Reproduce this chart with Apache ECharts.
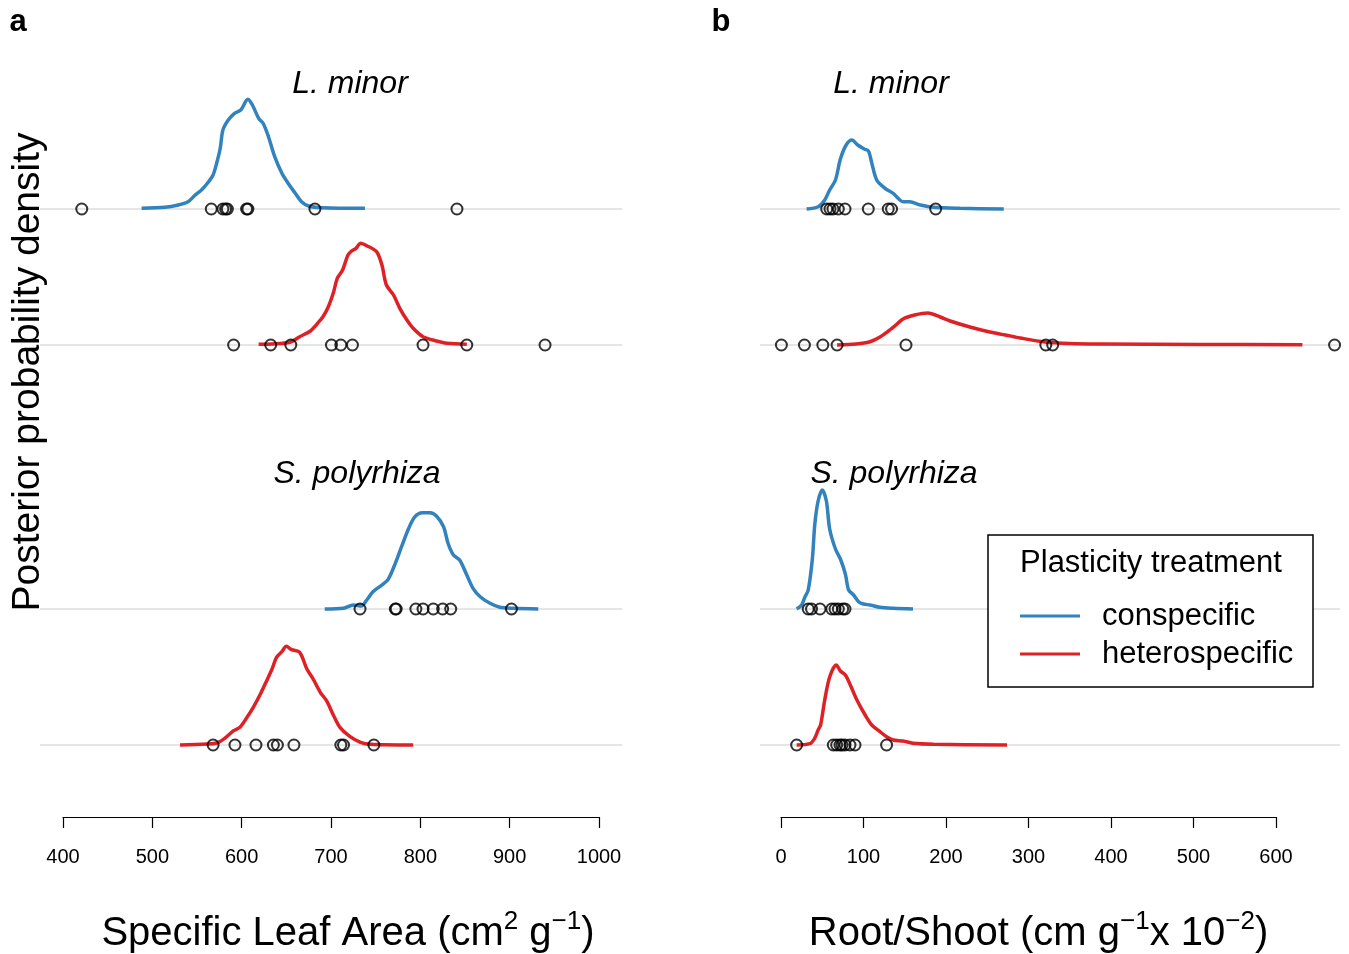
<!DOCTYPE html>
<html>
<head>
<meta charset="utf-8">
<script src="https://cdn.jsdelivr.net/npm/echarts@6/dist/echarts.min.js"></script>
<style>
html, body { margin: 0; padding: 0; background: #fff; }
#main { width: 1349px; height: 954px; }
</style>
</head>
<body>
<div id="main"></div>
<script>
// plotted x extent of each panel (ridge baselines run across all of it)
var sla_range = [374.254, 1025.746];
var rs_range = [-25.455, 677.576];
// tick range of the drawn axes
var sla_ticks = [400, 1000];
var rs_ticks = [0, 600];
// vertical offset of each ridge: L. minor con, L. minor het, S. polyrhiza con, S. polyrhiza het
var ridge_base = [608, 472, 208, 72];

// posterior densities [x, height] (scaled)
var sla_minor_con = [[488,0.7],[514,1.7],[529,4],[540,7.3],[548,14],[555,19],[563,27.3],[568,34],[572,45.7],[576,60.7],[579,79],[585,89],[592,95.7],[599,99],[607,109.7],[612,104],[619,90.7],[624,85.7],[630,72.3],[637,52.3],[645,35.7],[652,25.7],[660,15.7],[667,7.3],[675,3],[690,1.3],[738,0.7]];
var sla_minor_het = [[619,0.7],[634,1],[654,2.7],[665,8.3],[677,14],[684,20.7],[691,28.3],[697,38.3],[703,53.3],[707,66.7],[713,75],[719,90],[723,94],[728,96.7],[733,101.7],[740,99.3],[751,93.3],[757,80],[762,60],[770,50],[777,36.7],[785,25],[792,16.7],[803,8.3],[818,4],[830,1.7],[852,0.7]];
var sla_poly_con = [[693,0],[714,0.7],[725,4],[734,3],[740,9],[747,17.3],[757,24],[764,29.7],[772,45.7],[779,62.3],[787,80.7],[794,92.3],[802,96.3],[811,96.3],[818,93],[826,82.3],[831,65.7],[837,54],[844,49],[852,34],[859,20.7],[867,12.3],[878,5.7],[889,1.7],[904,0.7],[932,0]];
var sla_poly_het = [[531,0],[561,1],[572,2],[581,6.7],[591,14.3],[598,17.7],[606,27.7],[613,37.7],[621,51],[628,64.3],[634,76],[639,87.7],[645,93.3],[650,98.7],[656,95.3],[665,92.7],[673,76],[680,66],[688,52.7],[695,44.3],[703,29.3],[710,17.7],[721,8.7],[733,2.7],[744,0.7],[792,0]];

var rs_minor_con = [[31,0],[45,2.3],[53,9],[59,19],[66,29],[72,50],[79,64],[86,69],[93,64],[101,60],[106,58],[110,46],[116,29],[126,20.7],[136,15.7],[148,7.3],[156,7.3],[169,4],[185,1.7],[217,0.7],[270,0]];
var rs_minor_het = [[68,0],[91,1],[107,3],[120,8],[135,17],[148,26],[162,30],[178,32],[193,28],[205,24],[229,18],[253,13],[272,10],[290,7],[320,3],[350,1.5],[387,1],[508,0.5],[632,0.3]];
var rs_poly_con = [[19,0],[25,4],[29,12],[33,19],[38,50],[41,85],[45,108],[50,119],[55,108],[59,80],[66,60],[72,50],[78,35],[82,19],[88,14],[94,7.3],[100,5],[108,4],[120,1.7],[136,0.7],[160,0]];
var rs_poly_het = [[19,0],[35,1.3],[41,7],[45,15],[48,20],[53,45],[59,68],[67,80],[72,74],[78,70],[84,60],[92,45],[102,30],[110,20],[120,13.3],[128,8.3],[136,5],[148,4],[160,1.7],[185,0.7],[274,0]];

// observed values (open circles)
var sla_minor_con_obs = [421, 566, 579, 582, 584, 605.5, 607, 682, 841];
var sla_minor_het_obs = [591, 632.5, 655, 700.5, 711, 724, 803, 852, 939.6];
var sla_poly_con_obs = [732.5, 772, 773, 795, 803, 814.5, 825, 834, 902];
var sla_poly_het_obs = [568, 592.5, 616, 635.5, 640, 658.5, 711, 714, 748];
var rs_minor_con_obs = [55.4, 59.4, 63, 69.5, 77.6, 105.8, 130, 134, 187.5];
var rs_minor_het_obs = [0.5, 28.4, 50.7, 68, 151.5, 321, 329.3, 671];
var rs_poly_con_obs = [33, 37, 47.3, 61.5, 65.5, 69.5, 74.8, 77.6];
var rs_poly_het_obs = [19, 63.4, 67.5, 71.5, 74, 77.6, 83.6, 89.7, 128];

var BLUE = '#3182bd', RED = '#de2126';
var FONT = '"Liberation Sans", Arial, Helvetica, sans-serif';
var treat = ['conspecific', 'heterospecific', 'conspecific', 'heterospecific'];

var panels = [
  { range: sla_range, dens: [sla_minor_con, sla_minor_het, sla_poly_con, sla_poly_het],
    obs: [sla_minor_con_obs, sla_minor_het_obs, sla_poly_con_obs, sla_poly_het_obs] },
  { range: rs_range, dens: [rs_minor_con, rs_minor_het, rs_poly_con, rs_poly_het],
    obs: [rs_minor_con_obs, rs_minor_het_obs, rs_poly_con_obs, rs_poly_het_obs] }
];

var series = [];
panels.forEach(function (p, g) {
  for (var i = 0; i < 4; i++) {
    var b = ridge_base[i];
    series.push({
      type: 'line', xAxisIndex: g, yAxisIndex: g, silent: true,
      data: [[p.range[0], b], [p.range[1], b]], symbol: 'none',
      lineStyle: { color: '#cccccc', width: 1 }, z: 1
    });
    series.push({
      name: treat[i], type: 'line', xAxisIndex: g, yAxisIndex: g,
      data: p.dens[i].map(function (d) { return [d[0], b + d[1]]; }),
      symbol: 'none', smooth: 0.3,
      lineStyle: { color: i % 2 ? RED : BLUE, width: 3.5 },
      itemStyle: { color: i % 2 ? RED : BLUE }, z: 2
    });
    series.push({
      type: 'scatter', xAxisIndex: g, yAxisIndex: g,
      data: p.obs[i].map(function (v) { return [v, b]; }),
      symbol: 'circle', symbolSize: 11,
      itemStyle: { color: 'rgba(0,0,0,0)', borderColor: '#000', borderWidth: 2 }, z: 3
    });
  }
});

// hidden x axis of a data grid
function dataAx(g, r) {
  return { type: 'value', gridIndex: g, min: r[0], max: r[1], show: false, splitLine: { show: false } };
}
// visible x axis, drawn only over the tick range
function tickAx(g, r, name, shift) {
  return {
    type: 'value', gridIndex: g, min: r[0], max: r[1], interval: 100,
    splitLine: { show: false },
    axisLine: { lineStyle: { color: '#000', width: 1.2 } },
    axisTick: { length: 11, lineStyle: { color: '#000', width: 1.2 } },
    axisLabel: { color: '#000', fontSize: 20, margin: 30, fontFamily: FONT,
                 formatter: function (v) { return String(v); } },
    name: name, nameLocation: 'middle', nameGap: 92,
    nameTextStyle: {
      color: '#000', fontSize: 40, fontFamily: FONT, padding: [0, 0, 0, shift],
      rich: { s: { fontSize: 26, verticalAlign: 'top', padding: [0, 0, 24, 0], fontFamily: FONT, color: '#000' } }
    }
  };
}
function yAx(g) {
  return { type: 'value', gridIndex: g, min: 0, max: 777, show: false, splitLine: { show: false } };
}
function grid(left, width) {
  return { left: left, width: width, top: 40, height: 777, outerBoundsMode: 'none', containLabel: false };
}

function txt(x, y, s, size, extra, z) {
  var st = { x: x, y: y, text: s, fontSize: size, fontFamily: FONT, fill: '#000', align: 'center', verticalAlign: 'middle' };
  for (var k in extra) st[k] = extra[k];
  return { type: 'text', style: st, z: z || 10 };
}

var option = {
  backgroundColor: '#fff',
  animation: false,
  grid: [grid(40, 582), grid(760, 580), grid(63, 536), grid(781, 495)],
  xAxis: [
    dataAx(0, sla_range),
    dataAx(1, rs_range),
    tickAx(2, sla_ticks, 'Specific Leaf Area (cm{s|2} g{s|\u22121})', 34),
    tickAx(3, rs_ticks, 'Root/Shoot (cm g{s|\u22121}x 10{s|\u22122})', 20)
  ],
  yAxis: [yAx(0), yAx(1), yAx(2), yAx(3)],
  legend: {
    data: ['conspecific', 'heterospecific'],
    orient: 'vertical', left: 1015, top: 592, itemGap: 0,
    icon: 'rect', itemWidth: 60, itemHeight: 3,
    textStyle: { fontSize: 31, fontFamily: FONT, color: '#000', lineHeight: 38, padding: [0, 0, 0, 17] },
    selectedMode: false, z: 20
  },
  graphic: [
    { type: 'rect', shape: { x: 988, y: 535, width: 325, height: 152 },
      style: { fill: '#fff', stroke: '#000', lineWidth: 1.5 }, z: 15 },
    txt(1151, 563, 'Plasticity treatment', 31, {}, 16),
    txt(18, 22, 'a', 31, { fontWeight: 'bold' }),
    txt(721, 22, 'b', 31, { fontWeight: 'bold' }),
    txt(350, 84, 'L. minor', 32, { fontStyle: 'italic' }),
    txt(357, 474, 'S. polyrhiza', 32, { fontStyle: 'italic' }),
    txt(891, 84, 'L. minor', 32, { fontStyle: 'italic' }),
    txt(894, 474, 'S. polyrhiza', 32, { fontStyle: 'italic' }),
    { type: 'text', x: 28, y: 372, rotation: Math.PI / 2, z: 10,
      style: { x: 0, y: 0, text: 'Posterior probability density', fontSize: 39, fontFamily: FONT,
               fill: '#000', align: 'center', verticalAlign: 'middle' } }
  ],
  series: series
};

var myChart = echarts.init(document.getElementById('main'));
myChart.setOption(option);
</script>
</body>
</html>
